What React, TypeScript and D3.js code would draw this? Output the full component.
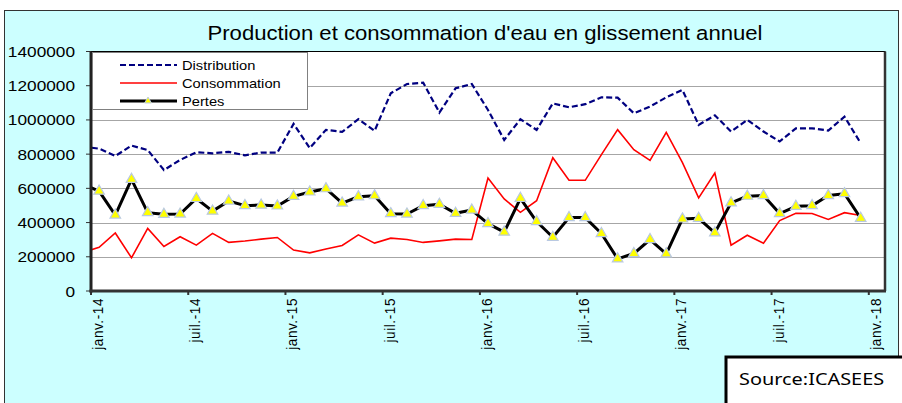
import React from "react";
import * as d3 from "d3";

// Series start one month before janv.-14 (déc.-13), monthly to déc.-17
const startIndex = -1;
const distribution = [844, 832, 789, 850, 824, 707, 766, 811, 805, 813, 793, 809, 809, 977, 835, 942, 930, 1004, 936, 1156, 1210, 1218, 1043, 1185, 1210, 1058, 883, 1004, 942, 1097, 1074, 1092, 1132, 1130, 1039, 1078, 1132, 1175, 971, 1027, 932, 1000, 932, 874, 951, 951, 938, 1019, 864].map(v => v * 1000);
const consommation = [226, 255, 339, 194, 366, 260, 317, 268, 337, 284, 292, 303, 313, 239, 223, 245, 266, 328, 280, 309, 301, 284, 293, 303, 301, 661, 538, 460, 528, 779, 647, 647, 797, 943, 826, 764, 927, 750, 544, 690, 268, 326, 279, 412, 454, 453, 418, 458, 441].map(v => v * 1000);
const pertes = [624, 584, 444, 653, 458, 448, 450, 541, 467, 526, 499, 502, 497, 553, 579, 598, 514, 551, 557, 452, 450, 499, 507, 454, 473, 394, 344, 542, 406, 314, 429, 429, 336, 188, 219, 301, 217, 421, 425, 340, 515, 554, 558, 453, 495, 499, 558, 569, 425].map(v => v * 1000);

const xTickLabels = ["janv.-14", "juil.-14", "janv.-15", "juil.-15", "janv.-16", "juil.-16", "janv.-17", "juil.-17", "janv.-18"];
const yTicks = [0, 200000, 400000, 600000, 800000, 1000000, 1200000, 1400000];
const title = "Production et consommation d'eau en glissement annuel";
const source = "Source:ICASEES";

const SX = 1.13;
const FONT = "'Liberation Sans', Arial, sans-serif";

function SText({ x, y, sx = SX, rotate = 0, children, ...rest }: any) {
  return (
    <text transform={`translate(${x},${y}) scale(${sx},1)${rotate ? ` rotate(${rotate})` : ""}`} {...rest}>
      {children}
    </text>
  );
}

export default function App() {
  const W = 902, H = 403;
  const plot = { left: 91, right: 885, top: 51.5, bottom: 291 };
  const x = d3.scaleLinear().domain([0, 49]).range([plot.left, plot.right]);
  const y = d3.scaleLinear().domain([0, 1400000]).range([plot.bottom, plot.top]);
  const px = (i: number) => x(i + startIndex + 0.5);

  const line = d3.line<number>().x((_, i) => px(i)).y(d => y(d));
  const tri = d3.symbol().type(d3.symbolTriangle).size(48)();

  return (
    <svg width={W} height={H} style={{ position: "absolute", left: 0, top: 0, display: "block" }} fontFamily={FONT}>
      <defs>
        <clipPath id="plotclip">
          <rect x={plot.left} y={plot.top} width={plot.right - plot.left} height={plot.bottom - plot.top} />
        </clipPath>
      </defs>
      <rect x={0} y={0} width={W} height={H} fill="#ffffff" />
      <rect x={4.5} y={10.5} width={894} height={400} fill="#CCFFFF" stroke="#333" strokeWidth={1} />

      <SText x={485} y={40} fontSize={19.5} textAnchor="middle" fill="#000" sx={1.135}>{title}</SText>

      {/* plot area */}
      <rect x={plot.left} y={plot.top} width={plot.right - plot.left} height={plot.bottom - plot.top} fill="#fff" stroke="#000" strokeWidth={1} />
      {yTicks.slice(1, -1).map(t => (
        <line key={t} x1={plot.left} x2={plot.right} y1={Math.round(y(t)) + 0.5} y2={Math.round(y(t)) + 0.5} stroke="#A6A6A6" strokeWidth={1.2} />
      ))}
      <line x1={plot.right} x2={plot.right} y1={plot.top} y2={plot.bottom} stroke="#333" strokeWidth={2.5} />

      {/* y axis labels & ticks */}
      {yTicks.map(t => (
        <g key={t}>
          <line x1={86} x2={plot.left} y1={y(t)} y2={y(t)} stroke="#333" strokeWidth={1} />
          <SText x={75} y={y(t) + 5.5} fontSize={15} textAnchor="end" fill="#000" sx={1.15}>{String(t)}</SText>
        </g>
      ))}

      {/* x ticks & labels */}
      {xTickLabels.map((lab, k) => {
        const tx = x(k * 6);
        return (
          <g key={lab}>
            <line x1={tx} x2={tx} y1={plot.bottom} y2={plot.bottom + 4} stroke="#333" strokeWidth={2} />
            <SText x={tx + 12} y={298} rotate={-90} fontSize={13.5} textAnchor="end" fill="#000" sx={1.1} letterSpacing={0.6}>{lab}</SText>
          </g>
        );
      })}

      {/* series */}
      <g clipPath="url(#plotclip)">
        <path d={line(distribution) || ""} fill="none" stroke="#000080" strokeWidth={2.2} strokeDasharray="6,3" />
        <path d={line(consommation) || ""} fill="none" stroke="#FF0000" strokeWidth={1.6} />
        <path d={line(pertes) || ""} fill="none" stroke="#000" strokeWidth={3} strokeLinejoin="round" />
        {pertes.map((v, i) => (i + startIndex >= 0 ? (
          <path key={i} d={tri || ""} transform={`translate(${px(i)},${y(v)})`} fill="#FFFF00" stroke="#B9C9E2" strokeWidth={1.2} />
        ) : null))}
      </g>

      {/* axes */}
      <line x1={plot.left} x2={plot.left} y1={plot.top} y2={plot.bottom + 1.5} stroke="#222" strokeWidth={3} />
      <line x1={plot.left - 1.5} x2={plot.right + 1} y1={plot.bottom} y2={plot.bottom} stroke="#333" strokeWidth={3} />

      {/* legend */}
      <g>
        <rect x={92.5} y={52.5} width={215} height={57} fill="#fff" stroke="#808080" strokeWidth={1} />
        <line x1={120} x2={177} y1={65} y2={65} stroke="#000080" strokeWidth={2.2} strokeDasharray="6,3" />
        <SText x={182} y={69.5} fontSize={13} fill="#000">Distribution</SText>
        <line x1={120} x2={177} y1={83} y2={83} stroke="#FF0000" strokeWidth={1.6} />
        <SText x={182} y={87.5} fontSize={13} fill="#000">Consommation</SText>
        <line x1={120} x2={177} y1={101} y2={101} stroke="#000" strokeWidth={3} />
        <path d={d3.symbol().type(d3.symbolTriangle).size(20)() || ""} transform="translate(148,101)" fill="#FFFF00" stroke="#B9C9E2" strokeWidth={1} />
        <SText x={182} y={105.5} fontSize={13} fill="#000">Pertes</SText>
      </g>

      {/* source box */}
      <rect x={726} y={357} width={190} height={60} fill="#fff" stroke="#000" strokeWidth={3} />
      <SText x={739} y={385} fontSize={17} sx={1.17} fontFamily="'Noto Sans', 'Open Sans', sans-serif" fill="#000">{source}</SText>
    </svg>
  );
}
